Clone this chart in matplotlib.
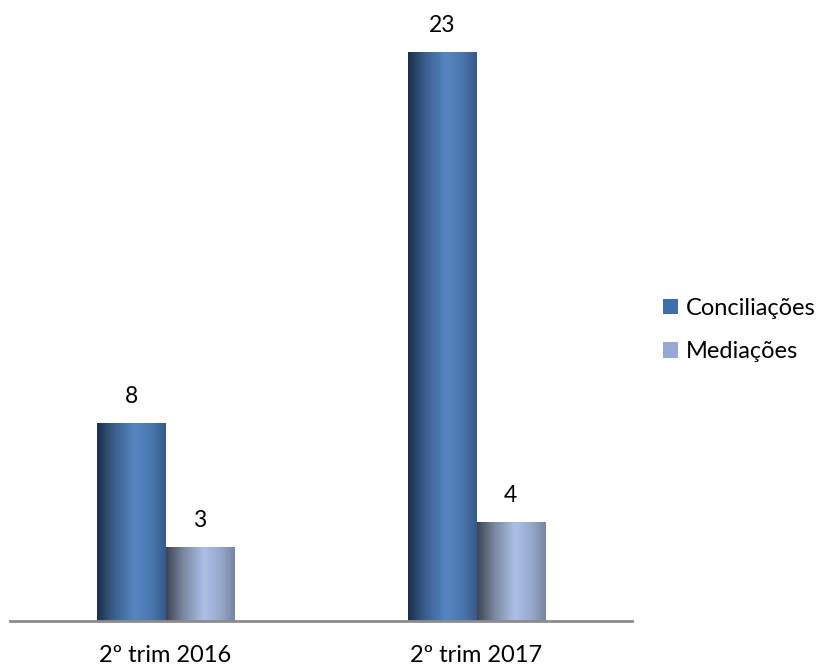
import numpy as np
import matplotlib
matplotlib.use("Agg")
import matplotlib.pyplot as plt
from matplotlib.colors import LinearSegmentedColormap
from matplotlib.patches import Rectangle

plt.rcParams['font.family'] = ['Lato', 'DejaVu Sans']

categories = ["2º trim 2016", "2º trim 2017"]
series_names = ["Conciliações", "Mediações"]
conciliacoes = [8, 23]
mediacoes = [3, 4]

W, H = 821, 667
fig = plt.figure(figsize=(W / 100, H / 100), dpi=100)
ax_left, ax_right = 10, 632
ax_bottom_px, ax_top_px = 621, 2.5
ax = fig.add_axes([ax_left / W, (H - ax_bottom_px) / H,
                   (ax_right - ax_left) / W, (ax_bottom_px - ax_top_px) / H])
ax.set_xlim(-0.5, 1.5)
ax.set_ylim(0, 25)

cmap_c = LinearSegmentedColormap.from_list(
    "c", [(0, "#1c2f48"), (0.25, "#3a5f8e"), (0.55, "#5686c2"), (0.8, "#4a76ad"), (1, "#36598a")])
cmap_m = LinearSegmentedColormap.from_list(
    "m", [(0, "#3e4352"), (0.25, "#7b879f"), (0.55, "#aac0e6"), (0.8, "#96a8cc"), (1, "#76849f")])

bw = 0.22
grad = np.linspace(0, 1, 256).reshape(1, -1)
x = np.arange(len(categories))

def gbar(xc, h, cmap):
    x0 = xc - bw / 2
    im = ax.imshow(grad, cmap=cmap, extent=[x0, x0 + bw, 0, h], aspect='auto',
                   interpolation='bicubic', zorder=2)
    rect = Rectangle((x0, 0), bw, h, transform=ax.transData, facecolor='none', edgecolor='none')
    ax.add_patch(rect)
    im.set_clip_path(rect)
    ax.text(xc, h + 0.65, f"{h}", ha='center', va='bottom', fontsize=16.5, color='black')

for i in x:
    gbar(i - bw / 2, conciliacoes[i], cmap_c)
    gbar(i + bw / 2, mediacoes[i], cmap_m)

ax.set_xlim(-0.5, 1.5)
ax.set_ylim(0, 25)
for s in ['top', 'right', 'left']:
    ax.spines[s].set_visible(False)
ax.spines['bottom'].set_color('#8c8c8c')
ax.spines['bottom'].set_linewidth(2)
ax.set_yticks([])
ax.set_xticks(x)
ax.set_xticklabels(categories, fontsize=17)
ax.tick_params(axis='x', length=0, pad=17)

handles = [Rectangle((0, 0), 1, 1, facecolor="#3f6ea8"),
           Rectangle((0, 0), 1, 1, facecolor="#95a9d2")]
fig.legend(handles, series_names, loc='center left', bbox_to_anchor=(663 / W, 1 - 330 / H),
           frameon=False, fontsize=17, handlelength=0.65, handleheight=0.65,
           handletextpad=0.3, labelspacing=0.95, borderpad=0, borderaxespad=0)

fig.savefig("out.png", dpi=100)
